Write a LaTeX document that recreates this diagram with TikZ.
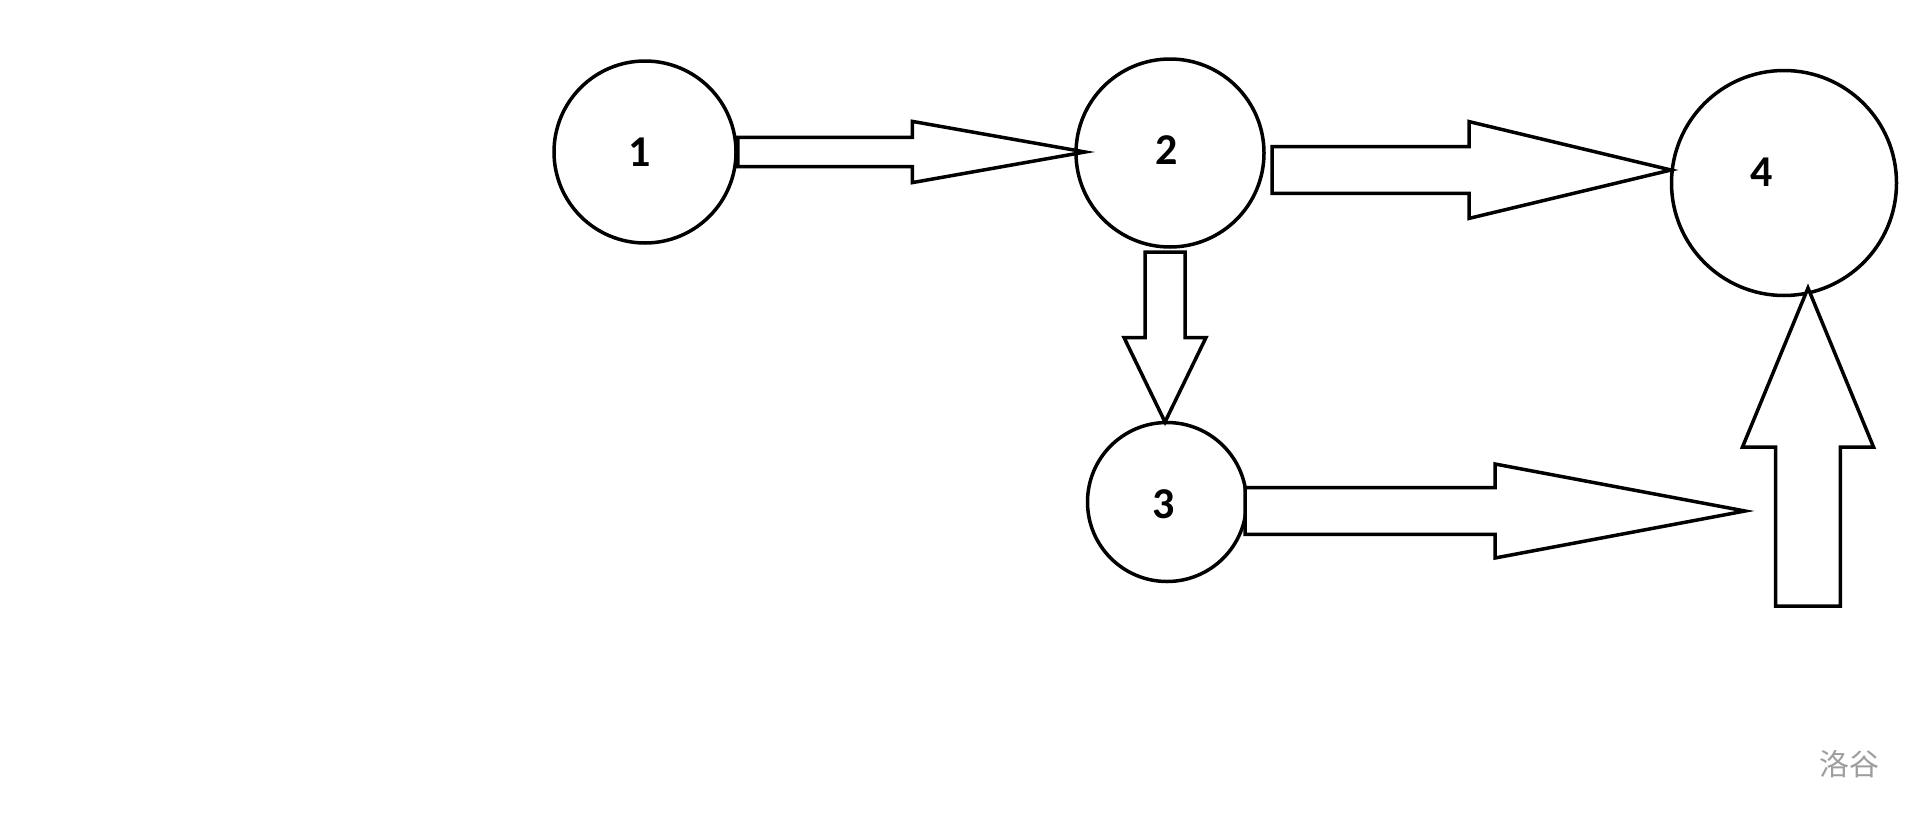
\documentclass[tikz,border=0pt]{standalone}
\usepackage{fontspec}
\setmainfont{Carlito}
\newfontfamily\cjkfont{Noto Sans CJK SC}
\usetikzlibrary{calc}
\tikzset{
  vertex/.style={draw, line width=3.5pt, circle, inner sep=0pt},
  vlabel/.style={font=\fontsize{44}{46}\selectfont\bfseries, inner sep=0pt},
  blockarr/.style={draw, line width=3.5pt, fill=white, line join=miter},
  wmark/.style={font=\cjkfont\fontsize{30}{32}\selectfont, text=black!38}
}
% \blockarrow{start}{tip}{shaft half width}{head half width}{head length}
\newcommand{\blockarrow}[5]{%
  \coordinate (hb) at ($(#2)!#5!(#1)$);
  \draw[blockarr] ($(#1)!#3!90:(#2)$) -- ($(hb)!#3!-90:(#1)$) -- ($(hb)!#4!-90:(#1)$)
     -- (#2) -- ($(hb)!#4!90:(#1)$) -- ($(hb)!#3!90:(#1)$) -- ($(#1)!#3!-90:(#2)$) -- cycle;
}
\begin{document}
\begin{tikzpicture}[x=1pt,y=-1pt]
\useasboundingbox (0,0) rectangle (1920,814);
\node[vertex, minimum size=182pt] (n1) at (645,152) {};
\node[vertex, minimum size=188pt] (n2) at (1170,153) {};
\node[vertex, minimum size=225pt] (n4) at (1784,183) {};
\node[vertex, minimum size=159pt] (n3) at (1167,502) {};
\node[vlabel] (l1) at (640,152) {1};
\node[vlabel] (l2) at (1167,150) {2};
\node[vlabel] (l4) at (1762,172) {4};
\node[vlabel] (l3) at (1164,504) {3};
\node[wmark] (wm) at (1849,764) {洛谷};
% arrow 1 -> 2
\coordinate (s12) at (n1.east);
\coordinate (t12) at (1085,152);
\blockarrow{s12}{t12}{14.7pt}{30.6pt}{172.6pt}
% arrow 2 -> 4
\coordinate (s24) at (1272,170);
\coordinate (t24) at (1671,170);
\blockarrow{s24}{t24}{23.3pt}{48.4pt}{202pt}
% arrow 2 -> 3
\coordinate (s23) at (1165,252);
\coordinate (t23) at (1165,422);
\blockarrow{s23}{t23}{20pt}{41pt}{84.5pt}
% arrow from 3
\coordinate (s3x) at (1245,511);
\coordinate (t3x) at (1745,511);
\blockarrow{s3x}{t3x}{23.3pt}{47pt}{250pt}
% arrow up to 4
\coordinate (sup4) at (1808,606);
\coordinate (tup4) at (1808,288);
\blockarrow{sup4}{tup4}{32.4pt}{65.5pt}{159pt}
\end{tikzpicture}
\end{document}
